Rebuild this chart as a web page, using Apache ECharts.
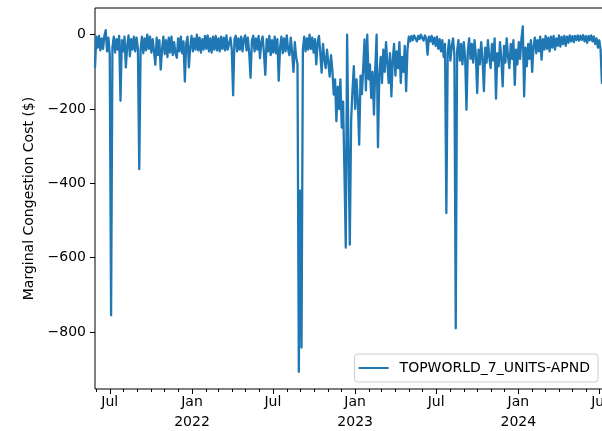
<!DOCTYPE html>
<html><head><meta charset="utf-8">
<script src="https://cdn.jsdelivr.net/npm/echarts@6/dist/echarts.min.js"></script>
<style>html,body{margin:0;padding:0;background:#fff}#c{width:602px;height:431px}</style>
</head><body><div id="c"></div>
<script>
const seriesName = 'TOPWORLD_7_UNITS-APND';
const yAxisTitle = 'Marginal Congestion Cost ($)';
const startDate = '2021-05-29';
const stepDays = 3;
const values = [
 -89,-5,-35,-3,-42,-10,-38,-2,12,-45,
 -8,-54,-755,-35,-5,-48,-12,-40,-3,-178,
 -15,-45,-5,-88,-30,-2,-58,-12,-40,-5,
 -45,-8,-38,-362,-40,-5,-50,-10,-42,0,
 -38,-5,-48,-12,-45,-81,-8,-55,-15,-94,
 -40,-5,-52,-15,-60,-8,-48,-5,-55,-20,
 -50,-62,-10,-45,-5,-50,-18,-126,-25,-5,
 -88,-35,-3,-45,-10,-40,0,-42,-8,-48,
 -12,-40,-3,-38,-2,-45,-10,-48,-5,-40,
 -3,-42,-10,-45,-5,-38,-8,-42,-2,-40,
 -45,-8,-40,-163,-12,-3,-45,-10,-40,-5,
 -45,-12,-2,-42,-8,-50,-116,-15,-3,-45,
 -10,-40,-3,-63,-20,-5,-50,-108,-12,-45,
 -3,-55,-15,-48,-5,-50,-12,-124,-35,-5,
 -50,-10,-45,-2,-40,-55,-8,-48,-100,-20,
 -60,-80,-907,-420,-842,-40,-5,-45,-10,-40,
 0,-38,-8,-48,-12,-80,-20,-3,-50,-102,
 -25,-65,-90,-40,-75,-113,-55,-95,-161,-120,
 -233,-140,-200,-120,-250,-180,-368,-573,0,-300,
 -565,-230,-150,-85,-200,-120,-180,-296,-110,-160,
 -90,-13,-150,0,-120,-80,-170,-100,-215,-90,
 0,-303,-110,-60,-130,-40,-100,-20,-75,-130,
 -50,-166,-70,-25,-110,-45,-90,-20,-130,-60,
 -100,-30,-152,-40,-5,-18,-3,-15,-2,-10,
 -18,-3,-12,0,-8,-16,-2,-10,-54,-5,
 -18,-3,-25,-8,-30,-5,-38,-12,-45,-15,
 -60,-25,-480,-50,-15,-70,-30,-10,-55,-790,
 -45,-15,-70,-25,-80,-20,-60,-202,-45,-10,
 -65,-25,-75,-15,-55,-157,-40,-80,-20,-65,
 -152,-35,-75,-15,-60,-90,-25,-70,-10,-172,
 -50,-85,-20,-65,-139,-30,-75,-10,-60,-90,
 -25,-65,-15,-135,-40,-80,-20,-65,-10,22,
 -166,-35,-85,-25,-65,-15,-100,-30,-8,-50,
 -15,-45,-5,-67,-12,-40,-3,-38,-8,-45,
 -5,-35,-3,-40,-10,-30,-2,-32,-6,-25,
 -3,-30,-5,-22,-2,-18,-4,-20,-3,-15,
 -2,-16,-3,-14,-1,-18,-4,-22,-3,-15,
 -2,-18,-5,-25,-10,-35,-15,-40,-130,-45,
 -25
];
const yTickValues = [0, -200, -400, -600, -800];
const xTickDates = ['2021-07-01','2022-01-01','2022-07-01','2023-01-01','2023-07-01','2024-01-01','2024-07-01'];
const xTickLabels = ['Jul','Jan\n2022','Jul','Jan\n2023','Jul','Jan\n2024','Jul'];

const DAY = 86400000;
const t0 = Date.parse(startDate + 'T00:00:00Z');
const data = values.map((v, i) => [t0 + i * stepDays * DAY, v]);
const xMin = t0;
const xMax = t0 + (values.length - 1) * stepDays * DAY;
const majorTicks = xTickDates.map(d => Date.parse(d + 'T00:00:00Z'));
const labelMap = {};
majorTicks.forEach((t, i) => { labelMap[t] = xTickLabels[i]; });
const monthTicks = [];
{
  const d0 = new Date(xMin);
  let y = d0.getUTCFullYear(), m = d0.getUTCMonth() + 1;
  while (true) {
    const t = Date.UTC(y, m, 1);
    if (t > xMax) break;
    monthTicks.push(t);
    m++; if (m > 11) { m = 0; y++; }
  }
}
const FONT = 'DejaVu Sans';
const chart = echarts.init(document.getElementById('c'), null, {renderer: 'canvas'});
chart.setOption({
  animation: false,
  backgroundColor: '#fff',
  grid: {left: 95, top: 8, width: 509.6, height: 381, outerBoundsMode: 'none', containLabel: false,
         show: true, borderColor: '#000', borderWidth: 1, backgroundColor: 'transparent'},
  xAxis: [{
    type: 'value', min: xMin, max: xMax, position: 'bottom',
    axisLine: {show: false, onZero: false},
    splitLine: {show: false},
    axisTick: {show: true, customValues: majorTicks, length: 5, lineStyle: {color: '#000', width: 1}},
    axisLabel: {customValues: majorTicks, formatter: v => labelMap[v] || '', color: '#000', fontSize: 14, fontFamily: FONT, lineHeight: 19.5, margin: 4, hideOverlap: false}
  }, {
    type: 'value', min: xMin, max: xMax, position: 'bottom',
    axisLine: {show: false, onZero: false}, splitLine: {show: false},
    axisTick: {show: true, customValues: monthTicks, length: 3, lineStyle: {color: '#000', width: 1}},
    axisLabel: {show: false}
  }],
  yAxis: {
    type: 'value', min: -953.4, max: 71.8,
    axisLine: {show: false, onZero: false}, splitLine: {show: false},
    axisTick: {show: true, customValues: yTickValues, length: 5, lineStyle: {color: '#000', width: 1}},
    axisLabel: {customValues: yTickValues, formatter: v => v < 0 ? '\u2212' + Math.abs(v) : String(v), color: '#000', fontSize: 14, fontFamily: FONT, margin: 9},
    name: yAxisTitle, nameLocation: 'middle', nameGap: 57, nameRotate: 90,
    nameTextStyle: {fontSize: 14, fontFamily: FONT, color: '#000'}
  },
  legend: {
    right: 4, bottom: 49, icon: 'rect', itemWidth: 30, itemHeight: 2,
    padding: [7, 8, 7, 4], borderColor: '#cccccc', borderWidth: 1, borderRadius: 3,
    backgroundColor: 'rgba(255,255,255,0.8)',
    textStyle: {fontSize: 14, fontFamily: FONT, color: '#000', padding: [0, 0, 0, 6]},
    data: [seriesName]
  },
  series: [{
    name: seriesName, type: 'line', data: data, showSymbol: false, symbol: 'none',
    xAxisIndex: 0, yAxisIndex: 0,
    lineStyle: {color: '#1f77b4', width: 2.3, join: 'round'},
    itemStyle: {color: '#1f77b4'}, clip: true, sampling: null
  }]
});
</script></body></html>
